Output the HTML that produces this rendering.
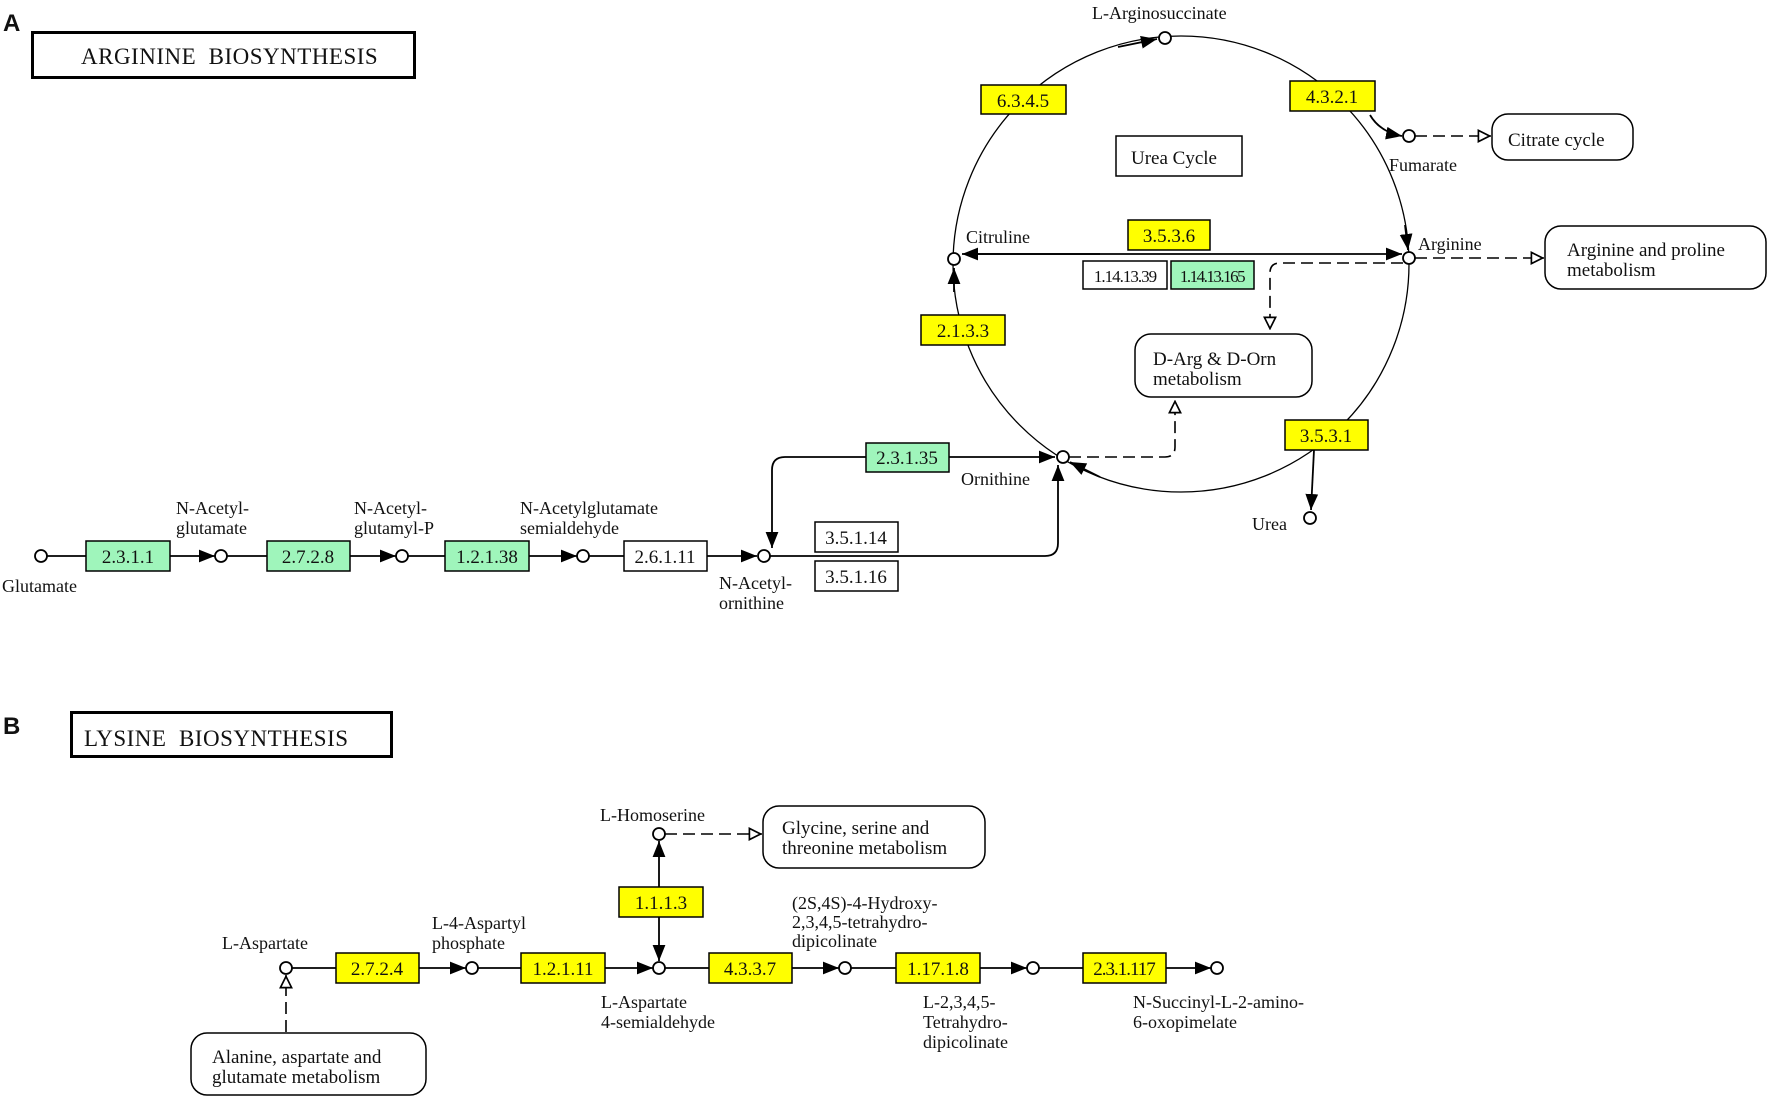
<!DOCTYPE html>
<html><head><meta charset="utf-8"><style>
html,body{margin:0;padding:0;background:#fff;}
svg{display:block;}
text{font-family:"Liberation Serif",serif;font-size:19px;fill:#111;}
.ec{font-size:19px;text-anchor:middle;}
.lb{font-size:18px;}
</style></head><body>
<svg width="1772" height="1101" viewBox="0 0 1772 1101" xmlns="http://www.w3.org/2000/svg">
<defs>
<marker id="ab" viewBox="0 0 10 10" refX="10" refY="5" markerWidth="16" markerHeight="16" markerUnits="userSpaceOnUse" orient="auto"><path d="M0,1L10,5L0,9z" fill="#000"/></marker>
<marker id="o" viewBox="0 0 10 10" refX="10" refY="5" markerWidth="14" markerHeight="14" markerUnits="userSpaceOnUse" orient="auto"><path d="M1,1L9,5L1,9z" fill="#fff" stroke="#000" stroke-width="1.2"/></marker>
</defs>
<g stroke="#000" fill="none" stroke-width="1.8">
<line x1="46" y1="556" x2="86" y2="556"/>
<line x1="170" y1="556" x2="215" y2="556" marker-end="url(#ab)"/>
<line x1="227" y1="556" x2="267" y2="556"/>
<line x1="350" y1="556" x2="396" y2="556" marker-end="url(#ab)"/>
<line x1="408" y1="556" x2="445" y2="556"/>
<line x1="529" y1="556" x2="577" y2="556" marker-end="url(#ab)"/>
<line x1="589" y1="556" x2="624" y2="556"/>
<line x1="707" y1="556" x2="757" y2="556" marker-end="url(#ab)"/>
<path d="M770,556 H1045 Q1058,556 1058,543 V465" marker-end="url(#ab)"/>
<path d="M866,457 H785 Q772,457 772,470 V548" marker-end="url(#ab)"/>
<line x1="949" y1="457" x2="1055" y2="457" marker-end="url(#ab)"/>
<ellipse cx="1181" cy="264" rx="228" ry="228" stroke-width="1.3"/>
<path d="M1118,47 L1157,39" marker-end="url(#ab)"/>
<path d="M1370,115 Q1380,132 1402,136" marker-end="url(#ab)"/>
<path d="M1405,225 L1408,250" marker-end="url(#ab)"/>
<path d="M954,292 L954,268" marker-end="url(#ab)"/>
<path d="M1100,477 L1070,462" marker-end="url(#ab)"/>
<path d="M1314,450 L1311,510" marker-end="url(#ab)"/>
<line x1="975" y1="254" x2="1402" y2="254" marker-end="url(#ab)"/>
<line x1="1100" y1="254" x2="962" y2="254" marker-end="url(#ab)"/>
</g>
<g stroke="#000" fill="none" stroke-width="1.6" stroke-dasharray="12,6">
<line x1="1415" y1="136" x2="1491" y2="136" marker-end="url(#o)"/>
<line x1="1415" y1="258" x2="1544" y2="258" marker-end="url(#o)"/>
<path d="M1403,263 H1280 Q1270,263 1270,273 V330" marker-end="url(#o)"/>
<path d="M1069,457 H1165 Q1175,457 1175,447 V400" marker-end="url(#o)"/>
<line x1="665" y1="834" x2="762" y2="834" marker-end="url(#o)"/>
<line x1="286" y1="1032" x2="286" y2="975" marker-end="url(#o)"/>
</g>
<g stroke="#000" fill="none" stroke-width="1.8">
<line x1="292" y1="968" x2="336" y2="968"/>
<line x1="419" y1="968" x2="466" y2="968" marker-end="url(#ab)"/>
<line x1="478" y1="968" x2="521" y2="968"/>
<line x1="605" y1="968" x2="653" y2="968" marker-end="url(#ab)"/>
<line x1="665" y1="968" x2="709" y2="968"/>
<line x1="792" y1="968" x2="839" y2="968" marker-end="url(#ab)"/>
<line x1="851" y1="968" x2="896" y2="968"/>
<line x1="980" y1="968" x2="1027" y2="968" marker-end="url(#ab)"/>
<line x1="1039" y1="968" x2="1083" y2="968"/>
<line x1="1166" y1="968" x2="1211" y2="968" marker-end="url(#ab)"/>
<line x1="659" y1="887" x2="659" y2="841" marker-end="url(#ab)"/>
<line x1="659" y1="917" x2="659" y2="961" marker-end="url(#ab)"/>
</g>
<g fill="#fff" stroke="#000" stroke-width="1.8">
<circle cx="41" cy="556" r="6"/><circle cx="221" cy="556" r="6"/><circle cx="402" cy="556" r="6"/>
<circle cx="583" cy="556" r="6"/><circle cx="764" cy="556" r="6"/><circle cx="1063" cy="457" r="6"/>
<circle cx="1165" cy="38" r="6"/><circle cx="1409" cy="136" r="6"/><circle cx="1409" cy="258" r="6"/>
<circle cx="954" cy="259" r="6"/><circle cx="1310" cy="518" r="6"/>
<circle cx="286" cy="968" r="6"/><circle cx="472" cy="968" r="6"/><circle cx="659" cy="968" r="6"/>
<circle cx="845" cy="968" r="6"/><circle cx="1033" cy="968" r="6"/><circle cx="1217" cy="968" r="6"/><circle cx="659" cy="834" r="6"/>
</g>
<g stroke="#000" stroke-width="1.5">
<rect x="86" y="541" width="84" height="30" fill="#9ff5bb"/>
<rect x="267" y="541" width="83" height="30" fill="#9ff5bb"/>
<rect x="445" y="541" width="84" height="30" fill="#9ff5bb"/>
<rect x="624" y="541" width="83" height="30" fill="#fff"/>
<rect x="815" y="522" width="83" height="30" fill="#fff"/>
<rect x="815" y="561" width="83" height="30" fill="#fff"/>
<rect x="866" y="443" width="83" height="29" fill="#9ff5bb"/>
<rect x="981" y="85" width="85" height="29" fill="#ffff00"/>
<rect x="1290" y="81" width="85" height="30" fill="#ffff00"/>
<rect x="1128" y="220" width="82" height="30" fill="#ffff00"/>
<rect x="1083" y="261" width="84" height="28" fill="#fff"/>
<rect x="1171" y="261" width="83" height="28" fill="#9ff5bb"/>
<rect x="921" y="315" width="84" height="30" fill="#ffff00"/>
<rect x="1285" y="420" width="83" height="30" fill="#ffff00"/>
<rect x="1116" y="136" width="126" height="40" fill="#fff"/>
<rect x="1492" y="114" width="141" height="46" rx="16" fill="#fff"/>
<rect x="1545" y="226" width="221" height="63" rx="16" fill="#fff"/>
<rect x="1135" y="334" width="177" height="63" rx="16" fill="#fff"/>
<rect x="336" y="953" width="83" height="30" fill="#ffff00"/>
<rect x="521" y="953" width="84" height="30" fill="#ffff00"/>
<rect x="709" y="953" width="83" height="30" fill="#ffff00"/>
<rect x="896" y="953" width="84" height="30" fill="#ffff00"/>
<rect x="1083" y="953" width="83" height="30" fill="#ffff00"/>
<rect x="619" y="887" width="84" height="30" fill="#ffff00"/>
<rect x="763" y="806" width="222" height="62" rx="16" fill="#fff"/>
<rect x="191" y="1033" width="235" height="62" rx="16" fill="#fff"/>
</g>
<rect x="32.5" y="32.5" width="382" height="45" fill="none" stroke="#000" stroke-width="3"/>
<rect x="71.5" y="712.5" width="320" height="44" fill="none" stroke="#000" stroke-width="3"/>
<text x="81" y="64" style="font-size:23px;letter-spacing:0.5px">ARGININE&#160; BIOSYNTHESIS</text>
<text x="84" y="746" style="font-size:23px;letter-spacing:0.5px">LYSINE&#160; BIOSYNTHESIS</text>
<text x="3" y="31" style="font-family:'Liberation Sans',sans-serif;font-weight:bold;font-size:24px">A</text>
<text x="3" y="734" style="font-family:'Liberation Sans',sans-serif;font-weight:bold;font-size:24px">B</text>
<g>
<text class="ec" x="128" y="563">2.3.1.1</text>
<text class="ec" x="308" y="563">2.7.2.8</text>
<text class="ec" x="487" y="563">1.2.1.38</text>
<text class="ec" x="665" y="563">2.6.1.11</text>
<text class="ec" x="856" y="544">3.5.1.14</text>
<text class="ec" x="856" y="583">3.5.1.16</text>
<text class="ec" x="907" y="464">2.3.1.35</text>
<text class="ec" x="1023" y="107">6.3.4.5</text>
<text class="ec" x="1332" y="103">4.3.2.1</text>
<text class="ec" x="1169" y="242">3.5.3.6</text>
<text class="ec" x="1125" y="282" style="font-size:17px;letter-spacing:-1px">1.14.13.39</text>
<text class="ec" x="1212" y="282" style="font-size:17px;letter-spacing:-1.5px">1.14.13.165</text>
<text class="ec" x="963" y="337">2.1.3.3</text>
<text class="ec" x="1326" y="442">3.5.3.1</text>
<text class="ec" x="377" y="975">2.7.2.4</text>
<text class="ec" x="563" y="975">1.2.1.11</text>
<text class="ec" x="750" y="975">4.3.3.7</text>
<text class="ec" x="938" y="975">1.17.1.8</text>
<text class="ec" x="1124" y="975" style="letter-spacing:-1px">2.3.1.117</text>
<text class="ec" x="661" y="909">1.1.1.3</text>
</g>
<g>
<text class="lb" x="2" y="592">Glutamate</text>
<text class="lb" x="176" y="514">N-Acetyl-</text><text class="lb" x="176" y="534">glutamate</text>
<text class="lb" x="354" y="514">N-Acetyl-</text><text class="lb" x="354" y="534">glutamyl-P</text>
<text class="lb" x="520" y="514">N-Acetylglutamate</text><text class="lb" x="520" y="534">semialdehyde</text>
<text class="lb" x="719" y="589">N-Acetyl-</text><text class="lb" x="719" y="609">ornithine</text>
<text class="lb" x="961" y="485">Ornithine</text>
<text class="lb" x="1092" y="19">L-Arginosuccinate</text>
<text class="lb" x="1389" y="171">Fumarate</text>
<text class="lb" x="1418" y="250">Arginine</text>
<text class="lb" x="966" y="243">Citruline</text>
<text class="lb" x="1252" y="530">Urea</text>
<text x="1131" y="164">Urea Cycle</text>
<text x="1508" y="146">Citrate cycle</text>
<text x="1567" y="256">Arginine and proline</text><text x="1567" y="276">metabolism</text>
<text x="1153" y="365">D-Arg &amp; D-Orn</text><text x="1153" y="385">metabolism</text>
<text class="lb" x="222" y="949">L-Aspartate</text>
<text class="lb" x="432" y="929">L-4-Aspartyl</text><text class="lb" x="432" y="949">phosphate</text>
<text class="lb" x="600" y="821">L-Homoserine</text>
<text x="782" y="834">Glycine, serine and</text><text x="782" y="854">threonine metabolism</text>
<text class="lb" x="601" y="1008">L-Aspartate</text><text class="lb" x="601" y="1028">4-semialdehyde</text>
<text class="lb" x="792" y="909">(2S,4S)-4-Hydroxy-</text><text class="lb" x="792" y="928">2,3,4,5-tetrahydro-</text><text class="lb" x="792" y="947">dipicolinate</text>
<text class="lb" x="923" y="1008">L-2,3,4,5-</text><text class="lb" x="923" y="1028">Tetrahydro-</text><text class="lb" x="923" y="1048">dipicolinate</text>
<text class="lb" x="1133" y="1008">N-Succinyl-L-2-amino-</text><text class="lb" x="1133" y="1028">6-oxopimelate</text>
<text x="212" y="1063">Alanine, aspartate and</text><text x="212" y="1083">glutamate metabolism</text>
</g>
</svg>
</body></html>
